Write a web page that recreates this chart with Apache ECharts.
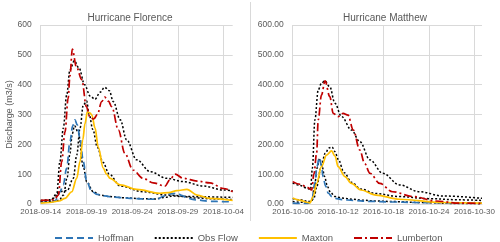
<!DOCTYPE html>
<html>
<head>
<meta charset="utf-8">
<script src="https://cdn.jsdelivr.net/npm/echarts@6/dist/echarts.min.js"></script>
<style>html,body{margin:0;padding:0;background:#fff}#c{width:500px;height:242px}</style>
</head>
<body>
<div id="c"></div>
<script>
// ---- Titles, axes ----
const titles = ['Hurricane Florence', 'Hurricane Matthew'];
const yAxisName = 'Discharge (m3/s)';
const legendNames = ['Hoffman', 'Obs Flow', 'Maxton', 'Lumberton'];
const florenceStart = '2018-09-14';   // day 0 of left chart
const florenceSpanDays = 21;
const florenceTickDays = 5;
const matthewStart = '2016-10-06';    // day 0 of right chart
const matthewSpanDays = 25;
const matthewTickDays = 6;
const yMax = 600, yStep = 100;

// ---- Hurricane Florence (days since 2018-09-14, discharge m3/s) ----
const flHoffmanDays = [0, 1, 1.6, 1.9, 2.1, 2.47, 2.84, 3.2, 3.5, 3.75, 4.0, 4.3, 4.66, 5.03, 5.6, 6.2, 7, 8, 9, 10, 11, 12, 12.8, 13.4, 14, 14.9, 15.5, 16, 17, 18.5, 20, 21];
const flHoffmanQ    = [5, 6, 10, 30, 41, 64, 120, 209, 262, 282, 265, 220, 142, 75, 41, 32, 27, 23, 21, 19, 17, 16, 17, 26, 33, 36, 28, 19, 14, 9, 8, 7];

const flHoffmanObsDays = [0, 1, 2, 2.5, 2.9, 3.2, 3.45, 3.7, 4.1, 4.66, 5.03, 5.75, 6.5, 7.5, 9, 11, 12.5, 13.5, 14.5, 15.5, 17, 19, 21];
const flHoffmanObsQ    = [8, 9, 12, 30, 90, 170, 235, 262, 240, 125, 75, 41, 30, 25, 21, 18, 17, 22, 27, 25, 20, 17, 15];

const flMaxtonDays = [0, 1, 2, 2.66, 3.4, 3.94, 4.3, 4.6, 4.85, 5.1, 5.4, 5.6, 5.94, 6.3, 6.85, 7.2, 7.6, 8.7, 10.5, 13.05, 14.0, 14.9, 16.0, 17.1, 18.5, 21];
const flMaxtonQ    = [3, 5, 10, 19, 41, 86, 142, 215, 270, 308, 305, 298, 255, 190, 120, 100, 86, 64, 49, 36, 38, 45, 49, 30, 19, 12];

const flMaxtonObsDays = [0, 1, 1.8, 2.2, 2.9, 3.57, 3.94, 4.3, 4.66, 5.03, 5.3, 5.7, 6.2, 6.8, 7.5, 8.7, 11.2, 13.8, 16.3, 18, 21];
const flMaxtonObsQ    = [8, 9, 35, 42, 45, 86, 164, 254, 332, 345, 300, 250, 190, 140, 100, 60, 41, 30, 25, 24, 22];

const flLumbertonDays = [0, 1, 1.5, 1.93, 2.3, 2.66, 3.0, 3.2, 3.46, 3.9, 4.5, 5.0, 5.4, 5.8, 6.2, 6.67, 7.0, 7.4, 7.77, 8.5, 9.2, 10.1, 11.2, 12.3, 13.6, 14.1, 14.7, 15.6, 17.1, 18.5, 20, 21];
const flLumbertonQ    = [12, 13, 15, 30, 142, 242, 354, 430, 519, 460, 416, 326, 290, 285, 300, 343, 358, 345, 326, 248, 170, 114, 86, 71, 60, 80, 100, 86, 77, 71, 52, 41];

const flLumbertonObsDays = [0, 1, 1.5, 1.75, 2.1, 2.47, 2.84, 3.2, 3.68, 4.2, 4.8, 5.4, 5.94, 6.5, 7.0, 7.5, 7.94, 8.7, 9.4, 10.5, 12.0, 13.8, 15.6, 17.8, 20, 21];
const flLumbertonObsQ    = [12, 14, 20, 30, 142, 254, 365, 450, 480, 455, 400, 362, 351, 375, 391, 380, 343, 282, 215, 148, 108, 86, 75, 60, 47, 44];

// ---- Hurricane Matthew (days since 2016-10-06, discharge m3/s) ----
const mtHoffmanDays = [0, 1, 2, 2.5, 2.93, 3.2, 3.5, 3.8, 4.0, 4.35, 4.7, 5.2, 5.6, 6.5, 8, 10, 13, 16, 20, 25];
const mtHoffmanQ    = [3, 2, 2, 8, 69, 125, 155, 130, 92, 60, 36, 24, 19, 15, 12, 9, 7, 5, 4, 3];

const mtHoffmanObsDays = [0, 1, 2, 2.5, 2.9, 3.2, 3.55, 3.9, 4.2, 4.6, 5.0, 5.6, 6.5, 8, 9, 11, 13.6, 17, 21, 25];
const mtHoffmanObsQ    = [8, 6, 5, 10, 60, 120, 152, 125, 92, 58, 38, 25, 20, 16, 13, 10, 8, 5, 2, 1];

const mtMaxtonDays = [0, 1, 2, 2.28, 2.7, 3.16, 3.8, 4.47, 5.13, 5.6, 6.0, 6.9, 7.76, 9.0, 11.0, 14.1, 19.8, 25];
const mtMaxtonQ    = [20, 12, 5, 4, 25, 69, 125, 164, 178, 160, 125, 92, 69, 47, 30, 16, 5, 3];

const mtMaxtonObsDays = [0, 1, 2, 2.4, 2.8, 3.2, 3.7, 4.3, 4.8, 5.2, 5.6, 6.0, 6.8, 7.8, 9, 11, 14, 18, 22, 25];
const mtMaxtonObsQ    = [18, 14, 9, 8, 20, 60, 120, 170, 188, 191, 175, 150, 105, 72, 50, 35, 25, 18, 14, 12];

const mtLumbertonDays = [0, 1, 2, 2.5, 2.8, 3.16, 3.37, 3.8, 4.27, 4.9, 5.35, 6.0, 6.66, 7.3, 8.0, 8.86, 9.5, 10.2, 11.5, 13.2, 15.9, 18.9, 22, 25];
const mtLumbertonQ    = [75, 66, 55, 47, 100, 170, 282, 365, 413, 360, 304, 293, 304, 298, 248, 181, 136, 103, 69, 41, 25, 10, 3, 2];

const mtLumbertonObsDays = [0, 1, 2, 2.35, 2.6, 2.93, 3.37, 3.8, 4.25, 4.9, 5.57, 6.45, 7.76, 8.86, 10.2, 11.9, 14.1, 16.75, 19.8, 25];
const mtLumbertonObsQ    = [70, 62, 52, 48, 120, 282, 382, 405, 413, 393, 338, 293, 248, 209, 148, 103, 64, 41, 27, 19];

// ---- styles ----
const BLUE = '#2E75B6', BLACK = '#000000', YELLOW = '#FFC000', RED = '#C00000';
const TXT = '#595959', GRID = '#D9D9D9';
const FONT = 'Liberation Sans, Arial, sans-serif';
const styles = {
  'Hoffman':   {color: BLUE,   type: [7, 4], width: 1.7},
  'Obs Flow':  {color: BLACK,  type: [2, 2], width: 1.5},
  'Maxton':    {color: YELLOW, type: 'solid', width: 1.7},
  'Lumberton': {color: RED,    type: [8, 3, 2, 3], width: 1.7}
};

function pad(n){return n < 10 ? '0' + n : '' + n;}
function dayLabel(start, d){
  const t = new Date(start + 'T00:00:00Z');
  t.setUTCDate(t.getUTCDate() + Math.round(d));
  return t.getUTCFullYear() + '-' + pad(t.getUTCMonth() + 1) + '-' + pad(t.getUTCDate());
}
function mk(name, days, q, idx){
  const s = styles[name];
  return {
    name: name, type: 'line', xAxisIndex: idx, yAxisIndex: idx,
    data: days.map((d, i) => [d, q[i]]),
    showSymbol: false, symbol: 'none', smooth: 0.35, smoothMonotone: 'x',
    lineStyle: {color: s.color, type: s.type, width: s.width},
    itemStyle: {color: s.color}, animation: false
  };
}

const series = [
  mk('Obs Flow', flLumbertonObsDays, flLumbertonObsQ, 0),
  mk('Obs Flow', flMaxtonObsDays, flMaxtonObsQ, 0),
  mk('Obs Flow', flHoffmanObsDays, flHoffmanObsQ, 0),
  mk('Hoffman', flHoffmanDays, flHoffmanQ, 0),
  mk('Maxton', flMaxtonDays, flMaxtonQ, 0),
  mk('Lumberton', flLumbertonDays, flLumbertonQ, 0),
  mk('Obs Flow', mtLumbertonObsDays, mtLumbertonObsQ, 1),
  mk('Obs Flow', mtMaxtonObsDays, mtMaxtonObsQ, 1),
  mk('Obs Flow', mtHoffmanObsDays, mtHoffmanObsQ, 1),
  mk('Hoffman', mtHoffmanDays, mtHoffmanQ, 1),
  mk('Maxton', mtMaxtonDays, mtMaxtonQ, 1),
  mk('Lumberton', mtLumbertonDays, mtLumbertonQ, 1)
];

function xAxis(idx, start, span, step){
  return {
    type: 'value', gridIndex: idx, min: 0, max: span, interval: step,
    axisLine: {show: true, lineStyle: {color: GRID, width: 1}},
    axisTick: {show: false},
    splitLine: {show: true, showMaxLine: false, lineStyle: {color: GRID, width: 1}},
    axisLabel: {color: TXT, fontSize: 8, margin: 4, showMaxLabel: false, fontFamily: FONT,
      formatter: v => dayLabel(start, v)}
  };
}
function yAxis(idx, decimals, withName){
  return {
    type: 'value', gridIndex: idx, min: 0, max: yMax, interval: yStep,
    name: withName ? yAxisName : '', nameLocation: 'middle', nameGap: 27,
    nameTextStyle: {color: TXT, fontSize: 9, fontFamily: FONT},
    axisLine: {show: false}, axisTick: {show: false},
    splitLine: {show: true, lineStyle: {color: GRID, width: 1}},
    axisLabel: {color: TXT, fontSize: 8.5, margin: 9, fontFamily: FONT,
      formatter: v => v.toFixed(decimals)}
  };
}

const chart = echarts.init(document.getElementById('c'), null, {renderer: 'canvas'});
chart.setOption({
  animation: false,
  backgroundColor: '#ffffff',
  title: [
    {text: titles[0], left: 125, top: 8, textAlign: 'center',
     textStyle: {color: TXT, fontSize: 10, fontWeight: 'normal', fontFamily: FONT}},
    {text: titles[1], left: 380, top: 8, textAlign: 'center',
     textStyle: {color: TXT, fontSize: 10, fontWeight: 'normal', fontFamily: FONT}}
  ],
  legend: {
    data: legendNames, left: 49, top: 228, itemWidth: 38, itemHeight: 8, itemGap: 20,
    itemStyle: {opacity: 0, borderWidth: 0},
    textStyle: {color: TXT, fontSize: 9.5, fontFamily: FONT}
  },
  grid: [
    {left: 40.7, top: 25, width: 192, height: 179},
    {left: 292.7, top: 25, width: 189.3, height: 179}
  ],
  xAxis: [xAxis(0, florenceStart, florenceSpanDays, florenceTickDays), xAxis(1, matthewStart, matthewSpanDays, matthewTickDays)],
  yAxis: [yAxis(0, 0, true), yAxis(1, 2, false)],
  graphic: [
    {type: 'line', shape: {x1: 250.5, y1: 2, x2: 250.5, y2: 221}, style: {stroke: GRID, lineWidth: 1}, silent: true}
  ],
  series: series
});
</script>
</body>
</html>
